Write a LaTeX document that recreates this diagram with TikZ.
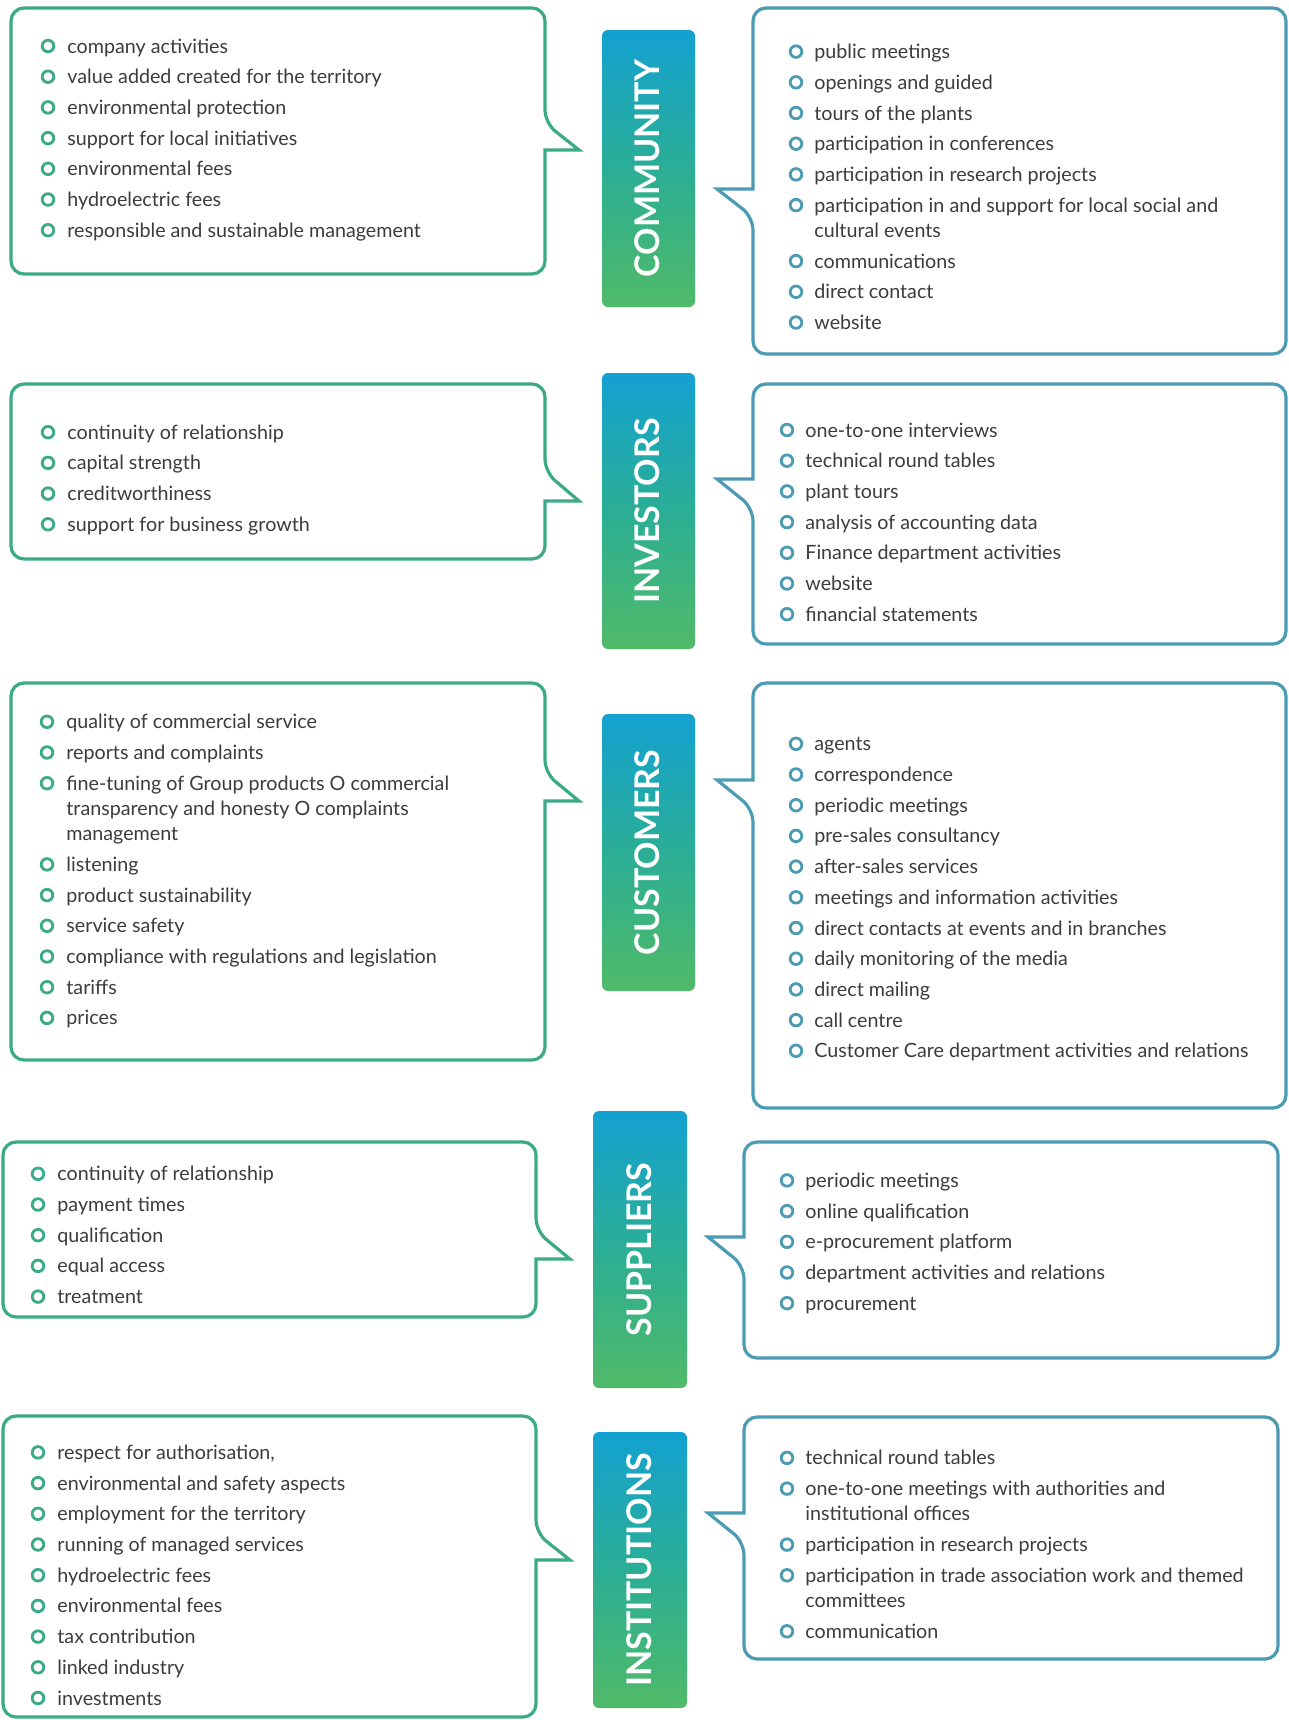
\documentclass[tikz,border=0pt]{standalone}
\usepackage{fontspec}
\setmainfont{Lato}
\definecolor{lgreen}{HTML}{3BAA86}
\definecolor{rblue}{HTML}{4B9BB5}
\definecolor{btop}{HTML}{13A1D1}
\definecolor{bmid}{HTML}{2BAE95}
\definecolor{bbot}{HTML}{50BA68}
\definecolor{txt}{HTML}{3C3C3C}
\tikzset{
 itemtext/.style={font=\fontsize{9.85pt}{12pt}\selectfont, text=txt, inner sep=0pt, anchor=base west},
 bulletring/.style={line width=1.4pt},
 lframe/.style={draw=lgreen, line width=1.6pt, line join=miter},
 rframe/.style={draw=rblue, line width=1.6pt, line join=miter},
 badgebox/.style={rounded corners=3pt, top color=btop, bottom color=bbot, middle color=bmid},
 badgetext/.style={rotate=90, text=white, font=\fontsize{17pt}{20pt}\selectfont\bfseries,
   inner sep=0pt, text depth=0pt, text height=0.72em},
}
\newcommand\bul[6]{%
 \draw[#5, bulletring] (#2,#4) circle[radius=2.9pt];
 \node[itemtext] (#1) at (#3,#4+7) {#6};}
\newcommand\contline[4]{\node[itemtext] (#1) at (#2,#3+7) {#4};}
\newcommand\lbox[7]{\draw[lframe] (#3,#6) [rounded corners=6.5pt] -- (#3,#4) -- (#1,#4) -- (#1,#2) -- (#3,#2) -- (#3,#5) [sharp corners] -- (#7,#6) -- cycle;}
\newcommand\rbox[7]{\draw[rframe] (#1,#5) [rounded corners=6.5pt] -- (#1,#2) -- (#3,#2) -- (#3,#4) -- (#1,#4) -- (#1,#6) [sharp corners] -- (#7,#5) -- cycle;}
% name, x1, y1, x2, y2, text
\newcommand\badge[6]{%
 \shade[badgebox] (#2,#3) rectangle (#4,#5);
 \node[badgetext] (#1) at ({(#2+#4)/2+4},{(#3+#5)/2}) {#6};}
\begin{document}
\begin{tikzpicture}[x=0.5pt,y=-0.5pt]
\fill[white] (0,0) rectangle (1289,1720);
\useasboundingbox (0,0) rectangle (1289,1720);

% ---------------- COMMUNITY ----------------
\lbox{11}{8}{545}{274}{123}{150}{579}
\rbox{753}{8}{1286}{354}{189}{217}{717}
\badge{community}{602}{30}{695}{307}{COMMUNITY}
\foreach \t [count=\i from 0] in {company activities, value added created for the territory, environmental protection, support for local initiatives, environmental fees, hydroelectric fees, responsible and sustainable management}
  {\bul{cl\i}{48}{67}{46+30.7*\i}{lgreen}{\t}}
\foreach \t [count=\i from 0] in {public meetings, openings and guided, tours of the plants, participation in conferences, participation in research projects, participation in and support for local social and}
  {\bul{cr\i}{796}{814}{51.6+30.7*\i}{rblue}{\t}}
\contline{cr5b}{814}{230.4}{cultural events}
\foreach \t [count=\i from 0] in {communications, direct contact, website}
  {\bul{crx\i}{796}{814}{261.1+30.7*\i}{rblue}{\t}}

% ---------------- INVESTORS ----------------
\lbox{11}{384}{545}{559}{472}{501}{579}
\rbox{753}{384}{1286}{644}{479}{508}{717}
\badge{investors}{602}{373}{695}{649}{INVESTORS}
\foreach \t [count=\i from 0] in {continuity of relationship, capital strength, creditworthiness, support for business growth}
  {\bul{il\i}{48}{67}{432.2+30.7*\i}{lgreen}{\t}}
\foreach \t [count=\i from 0] in {one-to-one interviews, technical round tables, plant tours, analysis of accounting data, Finance department activities, website, financial statements}
  {\bul{ir\i}{787}{805}{430+30.7*\i}{rblue}{\t}}

% ---------------- CUSTOMERS ----------------
\lbox{11}{683}{545}{1060}{773}{801}{579}
\rbox{753}{683}{1286}{1108}{780}{809}{717}
\badge{customers}{602}{714}{695}{991}{CUSTOMERS}
\bul{ul0}{47}{66}{721.8}{lgreen}{quality of commercial service}
\bul{ul1}{47}{66}{752.5}{lgreen}{reports and complaints}
\bul{ul2}{47}{66}{783.2}{lgreen}{fine-tuning of Group products O commercial}
\contline{ul2b}{66}{808.5}{transparency and honesty O complaints}
\contline{ul2c}{66}{833.8}{management}
\foreach \t [count=\i from 0] in {listening, product sustainability, service safety, compliance with regulations and legislation, tariffs, prices}
  {\bul{ulx\i}{47}{66}{864.4+30.7*\i}{lgreen}{\t}}
\foreach \t [count=\i from 0] in {agents, correspondence, periodic meetings, pre-sales consultancy, after-sales services, meetings and information activities, direct contacts at events and in branches, daily monitoring of the media, direct mailing, call centre, Customer Care department activities and relations}
  {\bul{ur\i}{796}{814}{743.8+30.7*\i}{rblue}{\t}}

% ---------------- SUPPLIERS ----------------
\lbox{3}{1142}{536}{1317}{1231}{1259}{570}
\rbox{744}{1142}{1278}{1358}{1237}{1266}{708}
\badge{suppliers}{593}{1111}{687}{1388}{SUPPLIERS}
\foreach \t [count=\i from 0] in {continuity of relationship, payment times, qualification, equal access, treatment}
  {\bul{sl\i}{38}{57}{1173.8+30.7*\i}{lgreen}{\t}}
\foreach \t [count=\i from 0] in {periodic meetings, online qualification, e-procurement platform, department activities and relations, procurement}
  {\bul{sr\i}{787}{805}{1180.4+30.7*\i}{rblue}{\t}}

% ---------------- INSTITUTIONS ----------------
\lbox{3}{1416}{536}{1717}{1533}{1560}{570}
\rbox{744}{1417}{1278}{1659}{1513}{1542}{708}
\badge{institutions}{593}{1432}{687}{1708}{INSTITUTIONS}
\foreach \t [count=\i from 0] in {{respect for authorisation,}, environmental and safety aspects, employment for the territory, running of managed services, hydroelectric fees, environmental fees, tax contribution, linked industry, investments}
  {\bul{nl\i}{38}{57}{1452.4+30.7*\i}{lgreen}{\t}}
\bul{nr0}{787}{805}{1457.9}{rblue}{technical round tables}
\bul{nr1}{787}{805}{1488.6}{rblue}{one-to-one meetings with authorities and}
\contline{nr1b}{805}{1513.9}{institutional offices}
\bul{nr2}{787}{805}{1544.6}{rblue}{participation in research projects}
\bul{nr3}{787}{805}{1575.3}{rblue}{participation in trade association work and themed}
\contline{nr3b}{805}{1600.6}{committees}
\bul{nr4}{787}{805}{1631.3}{rblue}{communication}
\end{tikzpicture}
\end{document}
